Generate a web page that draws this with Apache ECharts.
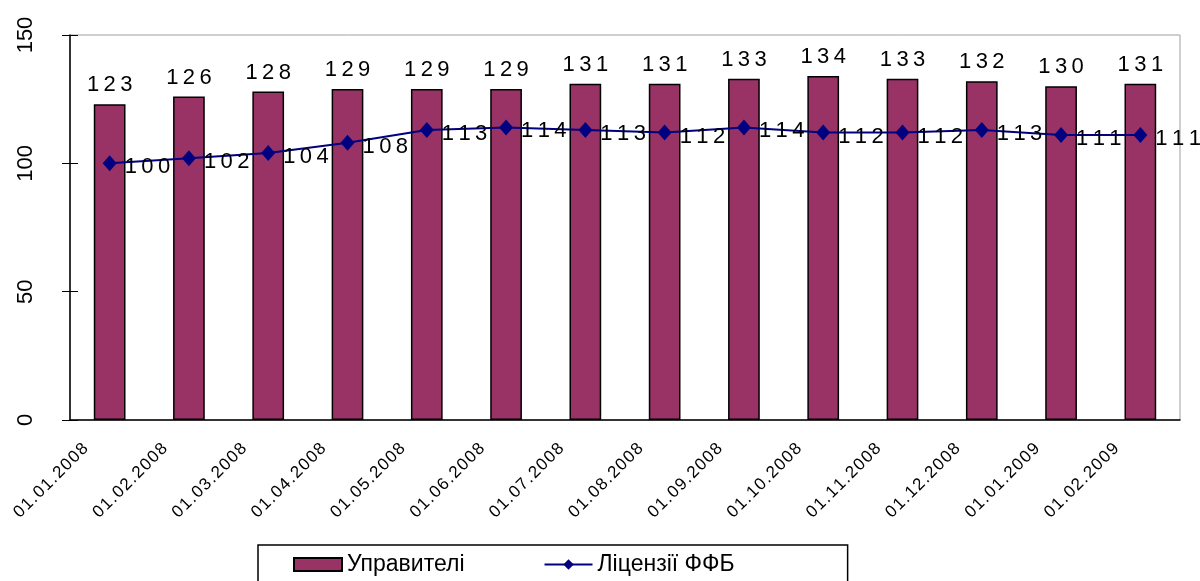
<!DOCTYPE html>
<html>
<head>
<meta charset="utf-8">
<script src="https://cdn.jsdelivr.net/npm/echarts@6/dist/echarts.min.js"></script>
<style>
  html, body { margin: 0; padding: 0; background: #fff; }
  #chart { width: 1200px; height: 581px; }
</style>
</head>
<body>
<div id="chart"></div>
<script>
// категорії (дати) та значення
const categories = ['01.01.2008', '01.02.2008', '01.03.2008', '01.04.2008', '01.05.2008',
  '01.06.2008', '01.07.2008', '01.08.2008', '01.09.2008', '01.10.2008',
  '01.11.2008', '01.12.2008', '01.01.2009', '01.02.2009'];
const managers = [123, 126, 128, 129, 129, 129, 131, 131, 133, 134, 133, 132, 130, 131];
const licenses = [100, 102, 104, 108, 113, 114, 113, 112, 114, 112, 112, 113, 111, 111];
const yMin = 0, yMax = 150, yStep = 50;

const font = 'Arial, "Liberation Sans", sans-serif';
// excel-like wide letter spacing
function spaced(s, sp) {
  return String(s).split('').join(sp);
}

let myChart = echarts.init(document.getElementById('chart'));
let option = {
  backgroundColor: '#fff',
  animation: false,
  textStyle: { fontFamily: font },
  grid: {
    left: 70, right: 20, top: 35, bottom: 161,
    show: true, borderColor: '#a0a0a0', borderWidth: 1
  },
  legend: {
    left: 258, top: 545,
    orient: 'horizontal',
    borderColor: '#000', borderWidth: 1.5,
    padding: [8, 113, 20, 35],
    itemGap: 79, itemWidth: 48, itemHeight: 13,
    textStyle: { fontSize: 23, color: '#000', fontFamily: font },
    data: [{ name: 'Управителі', icon: 'rect' }, { name: 'Ліцензії ФФБ' }]
  },
  xAxis: [{
    type: 'category',
    data: categories,
    axisLine: { lineStyle: { color: '#000', width: 1.5 } },
    axisTick: { length: 4, lineStyle: { color: '#000' } },
    axisLabel: {
      rotate: 45, fontSize: 17, color: '#000', margin: 2,
      padding: [0, 34, 0, 0], interval: 0,
      formatter: function (v) { return spaced(v, '\u200a'); }
    }
  }, {
    // inner half of the crossing ticks
    type: 'category',
    data: categories,
    position: 'bottom',
    axisLine: { show: false },
    axisTick: { inside: true, length: 6, lineStyle: { color: '#000' } },
    axisLabel: { show: false }
  }],
  yAxis: [{
    type: 'value',
    min: yMin, max: yMax, interval: yStep,
    splitLine: { show: false },
    axisLine: { show: true, lineStyle: { color: '#000', width: 1.5 } },
    axisTick: { show: true, length: 8, lineStyle: { color: '#000' } },
    axisLabel: { rotate: 90, fontSize: 22, color: '#000', margin: 33 }
  }, {
    type: 'value',
    position: 'left',
    min: yMin, max: yMax, interval: yStep,
    splitLine: { show: false },
    axisLine: { show: false },
    axisTick: { show: true, inside: true, length: 8, lineStyle: { color: '#000' } },
    axisLabel: { show: false }
  }],
  series: [{
    name: 'Управителі',
    type: 'bar',
    data: managers,
    barWidth: '40%',
    itemStyle: { color: '#993366', borderColor: '#000', borderWidth: 1.5 },
    label: {
      show: true, position: 'top', distance: 8,
      fontSize: 22, color: '#000', fontFamily: font,
      formatter: function (p) { return spaced(p.value, '\u2009'); }
    }
  }, {
    name: 'Ліцензії ФФБ',
    type: 'line',
    data: licenses,
    z: 5,
    symbol: 'diamond',
    symbolSize: [14, 16],
    lineStyle: { color: '#000080', width: 2 },
    itemStyle: { color: '#000080' },
    label: {
      show: true, position: 'right', distance: 8, offset: [0, 4],
      fontSize: 22, color: '#000', fontFamily: font,
      formatter: function (p) { return spaced(p.value, '\u2009'); }
    }
  }]
};
myChart.setOption(option);
window.onresize = () => { myChart.resize(); };
</script>
</body>
</html>
